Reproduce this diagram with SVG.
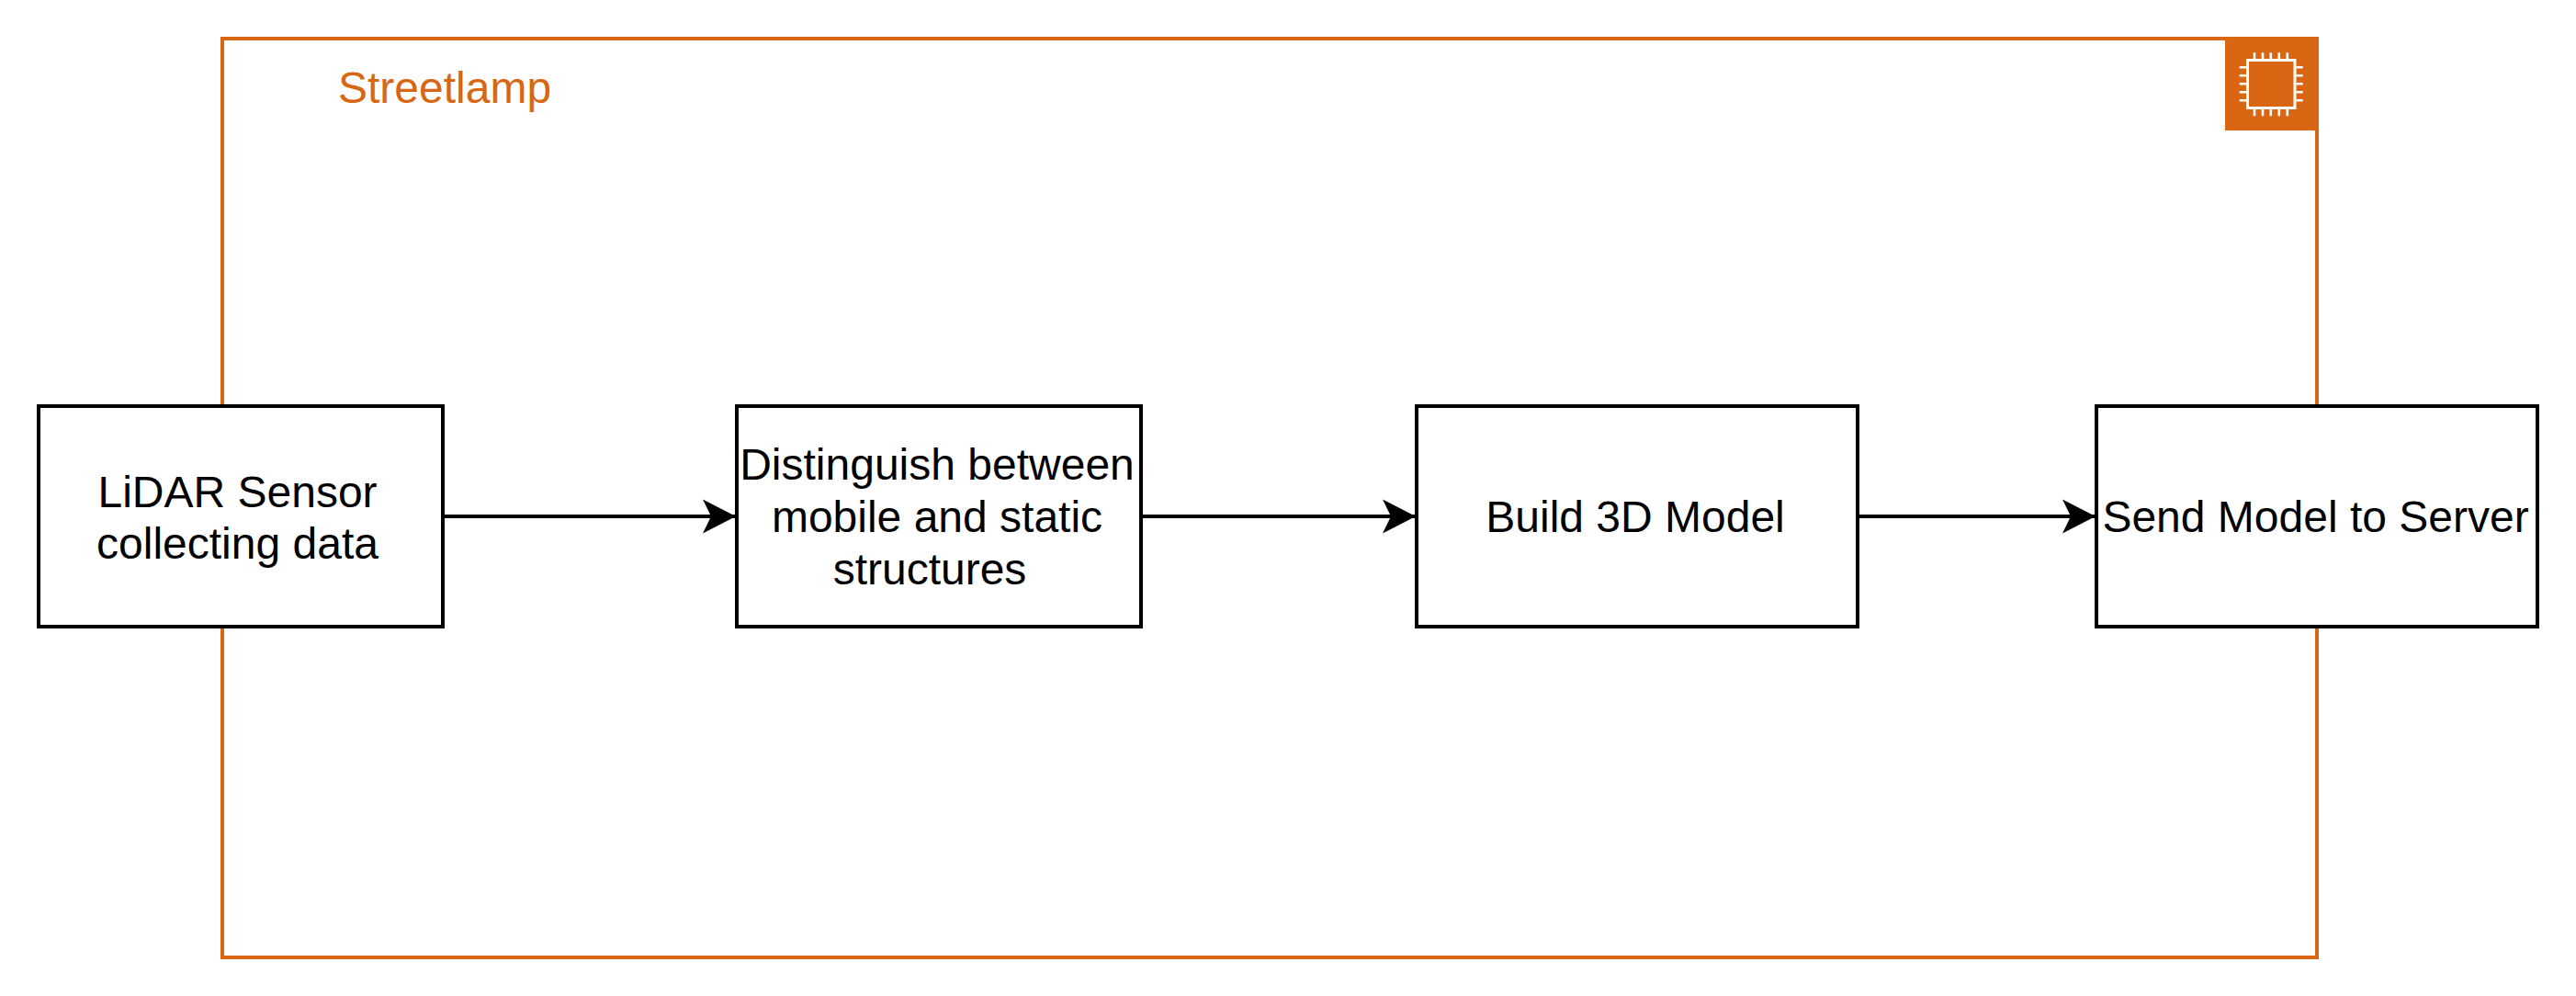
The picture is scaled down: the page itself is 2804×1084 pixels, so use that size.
<svg xmlns="http://www.w3.org/2000/svg" width="2804" height="1084" viewBox="0 0 2804 1084">
  <style>
    text { font-family: "Liberation Sans", Arial, Helvetica, sans-serif; font-size: 48px; }
    .box { fill: #ffffff; stroke: #000000; stroke-width: 4; }
    .label { fill: #000000; text-anchor: middle; }
    .conn { fill: none; stroke: #000000; stroke-width: 4; }
    .pin { fill: none; stroke: #ffffff; stroke-width: 2.6; }
  </style>
  <defs>
    <marker id="arrow" markerUnits="userSpaceOnUse" markerWidth="38" markerHeight="40" refX="37" refY="19" orient="auto">
      <path d="M0 0.5L36 19L0 37.5L9 19Z" fill="#000000"/>
    </marker>
  </defs>
  <rect width="2804" height="1084" fill="#ffffff"/>
  <g id="streetlamp">
    <rect x="242" y="42" width="2280" height="1000" fill="none" stroke="#D86613" stroke-width="4"/>
    <rect x="2422" y="40" width="102" height="102" fill="#D86613"/>
    <rect x="2446.5" y="65.5" width="51.5" height="52" fill="none" stroke="#ffffff" stroke-width="3"/>
    <path class="pin" d="M2454 57.3V64M2463 57.3V64M2471.8 57.3V64M2480.8 57.3V64M2489.8 57.3V64M2454 119V126.3M2463 119V126.3M2471.8 119V126.3M2480.8 119V126.3M2489.8 119V126.3M2437.7 73.3H2445M2437.7 82.3H2445M2437.7 91.3H2445M2437.7 100.3H2445M2437.7 109.3H2445M2499.5 73.3H2506.7M2499.5 82.3H2506.7M2499.5 91.3H2506.7M2499.5 100.3H2506.7M2499.5 109.3H2506.7"/>
    <text x="368" y="112" fill="#D86613">Streetlamp</text>
  </g>
  <g id="connectors">
    <path class="conn" d="M482 562H802" marker-end="url(#arrow)"/>
    <path class="conn" d="M1242 562H1542" marker-end="url(#arrow)"/>
    <path class="conn" d="M2022 562H2282" marker-end="url(#arrow)"/>
  </g>
  <g id="lidar">
    <rect class="box" x="42" y="442" width="440" height="240"/>
    <text class="label"><tspan x="258.5" y="552">LiDAR Sensor</tspan><tspan x="258.5" y="608">collecting data</tspan></text>
  </g>
  <g id="distinguish">
    <rect class="box" x="802" y="442" width="440" height="240"/>
    <text class="label"><tspan x="1020" y="522">Distinguish between</tspan><tspan x="1020" y="579">mobile and static</tspan><tspan x="1012" y="636">structures</tspan></text>
  </g>
  <g id="build">
    <rect class="box" x="1542" y="442" width="480" height="240"/>
    <text class="label" x="1780" y="579">Build 3D Model</text>
  </g>
  <g id="send">
    <rect class="box" x="2282" y="442" width="480" height="240"/>
    <text class="label" x="2520.5" y="579">Send Model to Server</text>
  </g>
</svg>
